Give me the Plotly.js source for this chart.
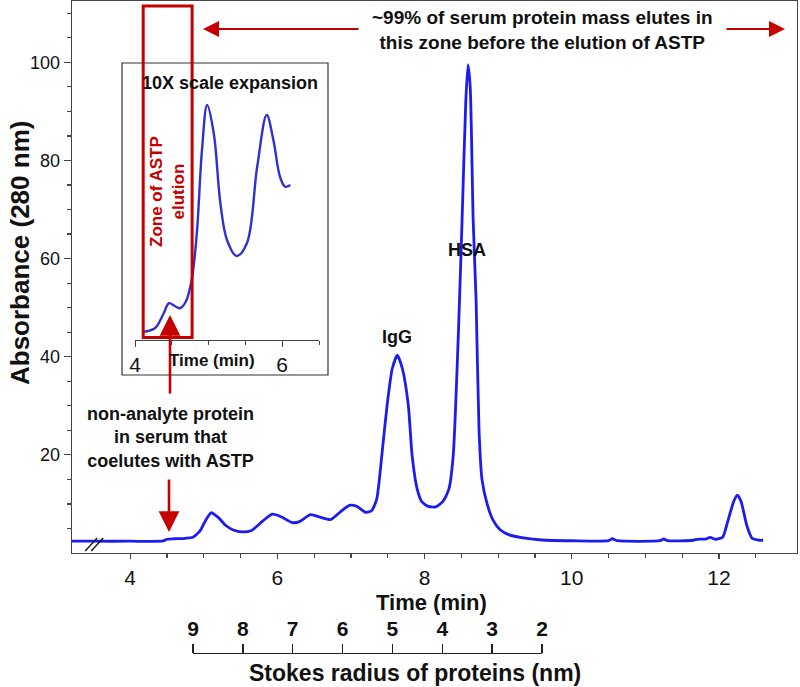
<!DOCTYPE html>
<html><head><meta charset="utf-8">
<script src="https://cdn.plot.ly/plotly-3.0.1.min.js"></script>
<style>html,body{margin:0;padding:0;background:#fff;}#chart{width:800px;height:687px;}</style>
</head><body><div id="chart"></div>
<script>
// Main chromatogram (time in min, absorbance at 280 nm)
const timeMin = [3.21,3.5,4.0,4.45,4.5,4.6,4.75,4.85,4.95,5.02,5.1,5.2,5.3,5.4,5.52,5.65,5.8,5.93,6.05,6.2,6.3,6.45,6.58,6.72,6.85,6.98,7.08,7.2,7.28,7.35,7.42,7.49,7.56,7.63,7.70,7.78,7.83,7.9,7.96,8.05,8.15,8.25,8.33,8.39,8.46,8.51,8.56,8.59,8.62,8.66,8.70,8.74,8.78,8.85,8.93,9.03,9.15,9.34,9.6,10.0,10.5,10.55,10.62,11.2,11.25,11.3,11.65,11.7,11.83,11.88,11.95,12.05,12.12,12.2,12.25,12.3,12.38,12.45,12.55,12.6];
const absorbance = [2.4,2.4,2.4,2.45,2.8,2.9,3.0,3.2,4.5,6.5,8.2,7.2,5.6,4.7,4.3,4.6,6.5,7.9,7.4,6.2,6.4,7.8,7.3,6.8,8.3,9.7,9.5,8.3,8.6,11,20,30,37.5,40.3,37.5,30,20,13,10.5,9.5,9.4,10.5,13,20,45,68,92,99.5,95,68,51.5,25,15,10,6.7,4.7,3.7,3.1,2.65,2.5,2.5,2.9,2.5,2.5,2.85,2.5,2.6,2.8,2.9,3.2,2.8,3.2,6.5,10.5,11.8,10.5,5.5,3.0,2.6,2.6];
// Inset: 10X scale expansion (relative units)
const insetTime = [4.11,4.27,4.39,4.46,4.54,4.61,4.69,4.77,4.84,4.91,4.98,5.07,5.16,5.25,5.38,5.52,5.66,5.79,5.88,5.97,6.04,6.11];
const insetAbs = [3.3,4.7,10.7,14.7,13.6,12.7,15.3,24,42.7,76,94,82.7,54.7,40,33.6,38.7,69.3,90,80,65.3,61.3,62];
// Tick labels
const timeTicks = [4,6,8,10,12];
const absTicks = [20,40,60,80,100];
const insetTicks = [4,6];
const stokesTicks = [9,8,7,6,5,4,3,2];

const L=72, W=725, B=680, H=679;
const P = (px,py) => ({x:(px-L)/W, y:(B-py)/H});
const red = '#c40000', blue = 'rgb(28,28,240)', ax = '#444';
const FF = '"Liberation Sans", Arial, sans-serif';

const xMinor = [], yMinor = [];
for (let v=4.5; v<=12.51; v+=0.5) if (timeTicks.indexOf(v)<0) xMinor.push(v);
for (let v=5; v<=110; v+=5) if (absTicks.indexOf(v)<0) yMinor.push(v);

const traces = [
  {x: timeMin, y: absorbance, type:'scatter', mode:'lines', line:{color:blue, width:2.8, shape:'spline', smoothing:0.6}, xaxis:'x', yaxis:'y', hoverinfo:'skip'},
  {x: insetTime, y: insetAbs, type:'scatter', mode:'lines', line:{color:'#3030d0', width:2.4, shape:'spline', smoothing:1}, xaxis:'x2', yaxis:'y2', hoverinfo:'skip'},
  {x: [stokesTicks[0], stokesTicks[stokesTicks.length-1]], y:[null,null], type:'scatter', mode:'lines', xaxis:'x3', yaxis:'y', showlegend:false, hoverinfo:'skip'}
];

function ann(px,py,text,size,extra){
  const p=P(px,py);
  return Object.assign({xref:'paper', yref:'paper', x:p.x, y:p.y, text:text, showarrow:false,
    font:{family:FF, size:size, color:'#111'}, xanchor:'center', yanchor:'middle'}, extra||{});
}
function arrow(tipX,tipY,tailX,tailY,w,s){
  const p=P(tipX,tipY);
  return {xref:'paper', yref:'paper', x:p.x, y:p.y, text:'', showarrow:true, ax:tailX-tipX, ay:tailY-tipY,
    arrowcolor:red, arrowwidth:w, arrowhead:2, arrowsize:s, standoff:0, startstandoff:0};
}

const ib0 = P(122,375), ib1 = P(328,63);
const layout = {
  width:800, height:687, margin:{l:72, r:3, t:1, b:7},
  paper_bgcolor:'#fff', plot_bgcolor:'rgba(0,0,0,0)', showlegend:false,
  font:{family:FF, color:'#111'},
  xaxis:{domain:[0,1], anchor:'y', range:[3.21,13.06], tickmode:'array', tickvals:timeTicks,
    ticks:'outside', ticklen:5, tickwidth:1.2, tickcolor:ax, showline:true, linecolor:ax, linewidth:1.3, mirror:true,
    showgrid:false, zeroline:false, tickfont:{size:21, color:'#111'},
    minor:{tickmode:'array', tickvals:xMinor, ticks:'outside', ticklen:4, tickcolor:ax, showgrid:false}},
  yaxis:{domain:[(B-553)/H,1], anchor:'x', range:[0,112.5], tickmode:'array', tickvals:absTicks,
    ticks:'outside', ticklen:7, tickwidth:1.2, tickcolor:ax, showline:true, linecolor:ax, linewidth:1.3, mirror:true,
    showgrid:false, zeroline:false, tickfont:{size:18, color:'#111'},
    minor:{tickmode:'array', tickvals:yMinor, ticks:'outside', ticklen:4, tickcolor:ax, showgrid:false}},
  xaxis2:{domain:[(135-L)/W,(319-L)/W], anchor:'y2', range:[4,6.5], tickmode:'array', tickvals:insetTicks,
    ticks:'outside', ticklen:6, tickcolor:ax, showline:true, linecolor:ax, linewidth:1.2, showgrid:false, zeroline:false,
    tickfont:{size:21, color:'#111'},
    minor:{tickmode:'array', tickvals:[4.5,5,5.5,6.5], ticks:'outside', ticklen:4, tickcolor:ax, showgrid:false}},
  yaxis2:{domain:[(B-340)/H,(B-90)/H], anchor:'x2', range:[0,100], visible:false, showgrid:false, zeroline:false},
  xaxis3:{domain:[(193-L)/W,(542-L)/W], anchor:'free', position:(B-653)/H, side:'top', range:[9,2],
    tickmode:'array', tickvals:stokesTicks, ticks:'outside', ticklen:9, tickwidth:1.4, tickcolor:'#222',
    showline:true, linecolor:'#222', linewidth:1.4, showgrid:false, zeroline:false,
    tickfont:{size:21, color:'#111', weight:'bold'}},
  shapes:[
    {type:'rect', xref:'paper', yref:'paper', x0:ib0.x, y0:ib0.y, x1:ib1.x, y1:ib1.y, fillcolor:'#fff', line:{color:'#333', width:1.2}, layer:'below'},
    {type:'rect', xref:'x', yref:'y', x0:4.177, x1:4.842, y0:43.9, y1:111.5, line:{color:red, width:3}, layer:'above'},
    {type:'line', xref:'x', yref:'y', x0:3.389, y0:0.4, x1:3.552, y1:3.05, line:{color:'#111', width:1.3}},
    {type:'line', xref:'x', yref:'y', x0:3.471, y0:0.4, x1:3.634, y1:3.05, line:{color:'#111', width:1.3}}
  ],
  annotations:[
    ann(542,30,'<b>~99% of serum protein mass elutes in<br>this zone before the elution of ASTP</b>',19),
    arrow(203,29,360,29,2,1.6),
    arrow(785,29,725,29,2,1.6),
    ann(230,83,'<b>10X scale expansion</b>',18),
    ann(167,192,'<b>Zone of ASTP<br>elution</b>',17,{textangle:-90, font:{family:FF,size:17,color:red}}),
    arrow(170,315,170,395,2.6,1.6),
    ann(170,438,'<b>non-analyte protein<br>in serum that<br>coelutes with ASTP</b>',18),
    arrow(169,532,169,478,2.6,1.6),
    ann(397,337,'<b>IgG</b>',18),
    ann(467,250,'<b>HSA</b>',18),
    ann(431,602,'<b>Time (min)</b>',22),
    ann(20,253,'<b>Absorbance (280 nm)</b>',26,{textangle:-90}),
    ann(212,360,'<b>Time (min)</b>',17),
    ann(415,673,'<b>Stokes radius of proteins (nm)</b>',23)
  ]
};
Plotly.newPlot('chart', traces, layout, {staticPlot:true, displayModeBar:false});
</script></body></html>
